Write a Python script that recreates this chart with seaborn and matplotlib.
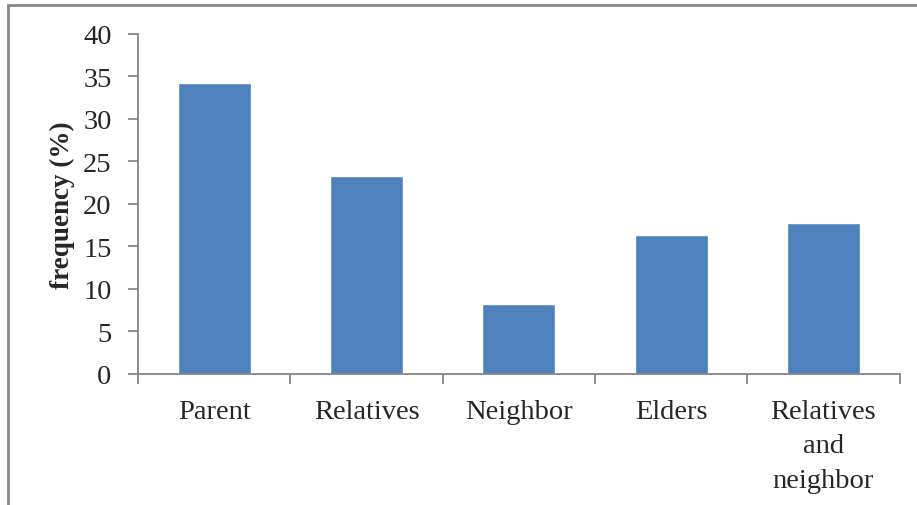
import matplotlib
matplotlib.use("Agg")
import matplotlib.pyplot as plt
from matplotlib.patches import Rectangle
from matplotlib.ticker import FixedLocator
import seaborn as sns
import pandas as pd

categories = ["Parent", "Relatives", "Neighbor", "Elders", "Relatives\nand\nneighbor"]
frequency = [34.2, 23.3, 8.2, 16.4, 17.8]
y_ticks = [0, 5, 10, 15, 20, 25, 30, 35, 40]

sns.set_theme(style="white")
plt.rcParams["font.family"] = ["Liberation Serif", "DejaVu Serif"]

df = pd.DataFrame({"source": categories, "frequency": frequency})

fig = plt.figure(figsize=(9.17, 5.06), dpi=100)
ax = fig.add_axes([0.1505, 0.259, 0.8305, 0.672])

sns.barplot(data=df, x="source", y="frequency", color="#4f81bd",
            saturation=1, width=0.48, ax=ax)

ax.set_ylim(0, 40)
ax.set_xlim(-0.5, len(categories) - 0.5)
ax.set_yticks(y_ticks)
ax.set_yticklabels([str(t) for t in y_ticks], fontsize=20.5)
ax.set_xticks(range(len(categories)))
ax.set_xticklabels(categories, fontsize=20.5, linespacing=1.5)
ax.xaxis.set_minor_locator(FixedLocator([i - 0.5 for i in range(len(categories) + 1)]))
ax.tick_params(axis="x", which="major", length=0, pad=18)
ax.tick_params(axis="x", which="minor", length=7, width=1.3, color="#868686", direction="out", bottom=True)
ax.tick_params(axis="y", length=7, width=1.3, color="#868686", direction="out", left=True, pad=12)
ax.set_xlabel("")
ax.set_ylabel("frequency (%)", fontsize=19.5, fontweight="bold")
ax.yaxis.set_label_coords(-0.083, 0.5)

for side in ("top", "right"):
    ax.spines[side].set_visible(False)
for side in ("left", "bottom"):
    ax.spines[side].set_color("#868686")
    ax.spines[side].set_linewidth(1.3)

# chart frame
fig.patches.append(Rectangle((8 / 917, -0.05), 1.2, 1 - 5.5 / 506 + 0.05,
                             transform=fig.transFigure, fill=False,
                             edgecolor="#888888", linewidth=2, clip_on=False))

fig.savefig("out.png", dpi=100)
